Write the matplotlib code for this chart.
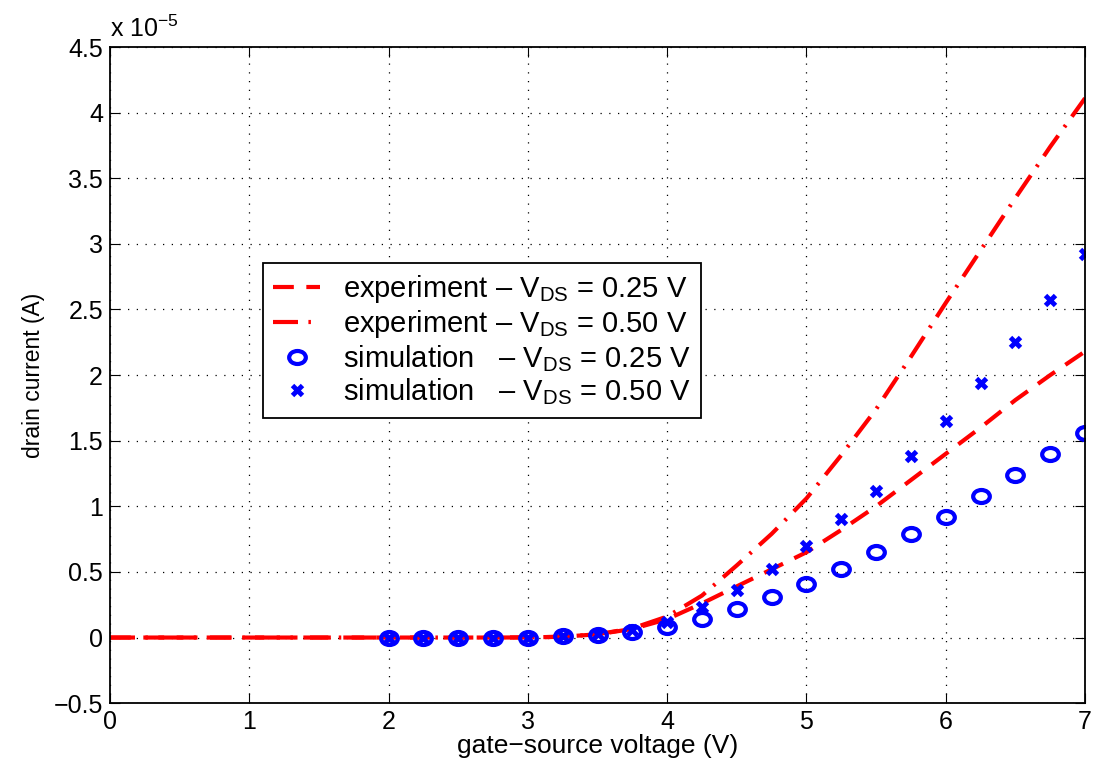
import matplotlib
matplotlib.use('Agg')
import matplotlib.pyplot as plt
from matplotlib.path import Path
from matplotlib.ticker import FuncFormatter

plt.rcParams['font.family'] = ['Liberation Sans', 'DejaVu Sans']
plt.rcParams['mathtext.fontset'] = 'custom'
plt.rcParams['mathtext.rm'] = 'Liberation Sans'
plt.rcParams['mathtext.it'] = 'Liberation Sans'

# drain current in units of 1e-5 A
vgs_exp = [0, 0.25, 0.5, 0.75, 1, 1.25, 1.5, 1.75, 2, 2.25, 2.5, 2.75, 3,
           3.25, 3.5, 3.75, 4, 4.25, 4.5, 4.75, 5, 5.25, 5.5, 5.75, 6,
           6.25, 6.5, 6.75, 7]
exp_025 = [0, 0, 0, 0, 0, 0, 0, 0, 0, 0, 0, 0, 0.001,
           0.006, 0.025, 0.065, 0.14, 0.26, 0.39, 0.52, 0.65, 0.82, 1.00, 1.20, 1.40,
           1.60, 1.81, 2.00, 2.18]
exp_050 = [0, 0, 0, 0, 0, 0, 0, 0, 0, 0, 0, 0, 0.001,
           0.006, 0.025, 0.07, 0.16, 0.32, 0.55, 0.79, 1.06, 1.39, 1.74, 2.14, 2.55,
           2.95, 3.35, 3.74, 4.11]

vgs_sim = [2, 2.25, 2.5, 2.75, 3, 3.25, 3.5, 3.75, 4, 4.25, 4.5, 4.75, 5,
           5.25, 5.5, 5.75, 6, 6.25, 6.5, 6.75, 7]
sim_025 = [0, 0, 0, 0, 0, 0.01, 0.02, 0.04, 0.08, 0.145, 0.22, 0.31, 0.41,
           0.52, 0.65, 0.79, 0.92, 1.08, 1.24, 1.40, 1.56]
sim_050 = [0, 0, 0, 0, 0, 0.01, 0.03, 0.06, 0.12, 0.23, 0.36, 0.52, 0.70,
           0.90, 1.12, 1.38, 1.65, 1.94, 2.25, 2.57, 2.92]

labels = ['experiment \u2013 V$_{DS}$ = 0.25 V',
          'experiment \u2013 V$_{DS}$ = 0.50 V',
          'simulation   \u2013 V$_{DS}$ = 0.25 V',
          'simulation   \u2013 V$_{DS}$ = 0.50 V']

# the original picture is stretched sideways, so the circles come out as ellipses
circ = Path.unit_circle()
ellipse = Path(circ.vertices * [1.0, 0.78], circ.codes)

fig = plt.figure(figsize=(11, 7.71), dpi=100)
ax = fig.add_axes([0.1, 0.088, 0.8864, 0.851])

ax.plot(vgs_exp, exp_025, color='red', lw=3, dashes=(5, 3), label=labels[0])
ax.plot(vgs_exp, exp_050, color='red', lw=3, dashes=(6, 2.5, 0.6, 2.5), label=labels[1])
ax.plot(vgs_sim, sim_025, ls='none', marker=ellipse, mfc='none', mec='blue', mew=3,
        ms=12, label=labels[2])
ax.plot(vgs_sim, sim_050, 'x', color='blue', mew=3.5, ms=7, label=labels[3])

ax.set_xlim(0, 7)
ax.set_ylim(-0.5, 4.5)
ax.set_xticks(range(0, 8))
ax.set_yticks([-0.5, 0, 0.5, 1, 1.5, 2, 2.5, 3, 3.5, 4, 4.5])
ax.yaxis.set_major_formatter(FuncFormatter(lambda v, p: ('%g' % v).replace('-', '\u2212')))
ax.grid(True, color='black', linestyle=(0, (1, 6)), lw=0.9)
ax.tick_params(direction='in', top=True, right=True, labelsize=18, length=7, pad=5)
for s in ax.spines.values():
    s.set_linewidth(1.3)

ax.set_xlabel('gate\u2212source voltage (V)', fontsize=19, labelpad=0)
ax.set_ylabel('drain current (A)', fontsize=16.5, labelpad=6)
ax.text(0, 1.008, 'x 10$^{\u22125}$', transform=ax.transAxes, fontsize=18,
        ha='left', va='bottom')

leg = ax.legend(loc='upper left', bbox_to_anchor=(0.157, 0.671), borderaxespad=0,
                fontsize=21, fancybox=False, edgecolor='black', framealpha=1,
                handlelength=1.6, handletextpad=0.8, labelspacing=0.1,
                borderpad=0.35)
leg.get_frame().set_linewidth(1.3)

fig.savefig('out.png', dpi=100)
